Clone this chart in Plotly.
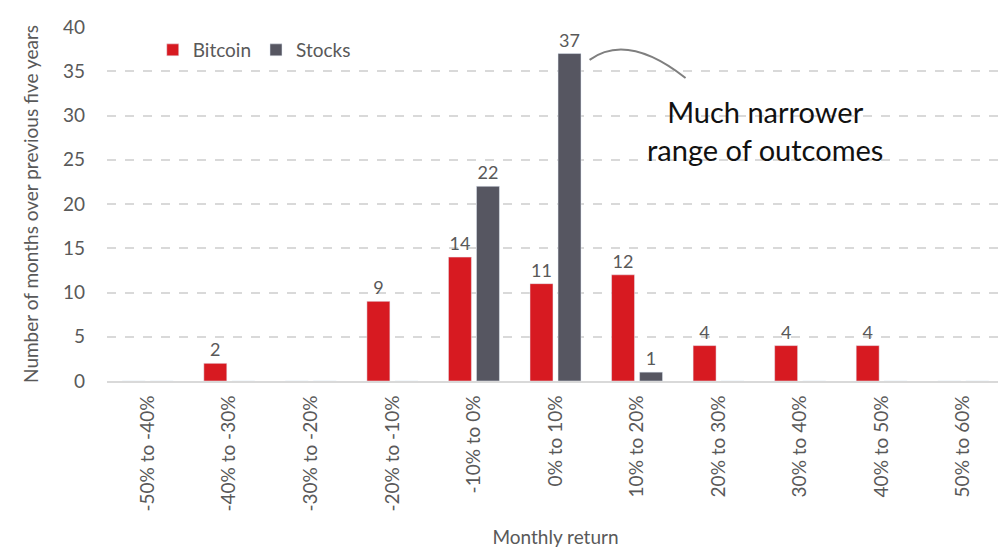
import plotly.graph_objects as go

categories = ["-50% to -40%", "-40% to -30%", "-30% to -20%", "-20% to -10%", "-10% to 0%",
              "0% to 10%", "10% to 20%", "20% to 30%", "30% to 40%", "40% to 50%", "50% to 60%"]
bitcoin = [0, 2, 0, 9, 14, 11, 12, 4, 4, 4, 0]
stocks = [0, 0, 0, 0, 22, 37, 1, 0, 0, 0, 0]

RED = "#d71a21"
GREY = "#565661"
TXT = "#595959"
FONT = "Lato"

def labels(vals):
    return [str(v) if v else "" for v in vals]

fig = go.Figure()
fig.add_trace(go.Bar(name="Bitcoin", x=categories, y=bitcoin, marker_color=RED,
                     text=labels(bitcoin), textposition="outside", cliponaxis=False,
                     textfont=dict(color=TXT, size=18, family=FONT)))
fig.add_trace(go.Bar(name="Stocks", x=categories, y=stocks, marker_color=GREY,
                     text=labels(stocks), textposition="outside", cliponaxis=False,
                     textfont=dict(color=TXT, size=18, family=FONT)))

# page has an 8px body margin, so figure is 998x548 with adjusted margins
fig.update_layout(
    width=998, height=548,
    margin=dict(l=99, r=2, t=19, b=175),
    plot_bgcolor="white", paper_bgcolor="white",
    font=dict(family=FONT, color=TXT, size=18),
    barmode="group", bargap=0.313, bargroupgap=0.18,
    legend=dict(orientation="h", x=0.051, y=0.935, xanchor="left", yanchor="middle",
                font=dict(size=19, color=TXT), bgcolor="rgba(0,0,0,0)",
                traceorder="normal"),
    showlegend=True,
)
fig.update_xaxes(showline=True, linecolor="#d9d9d9", linewidth=2, tickangle=-90,
                 ticks="", tickfont=dict(size=19, color=TXT), automargin=False,
                 ticklabelstandoff=5,
                 title=dict(text="Monthly return", font=dict(size=19, color=TXT), standoff=20))
fig.update_yaxes(range=[0, 40], dtick=5, showgrid=True, gridcolor="#d9d9d9", griddash="dash",
                 gridwidth=1.5, zeroline=False, ticks="", tickfont=dict(size=19, color=TXT),
                 ticklabelstandoff=21, automargin=False,
                 title=dict(text="Number of months over previous five years",
                            font=dict(size=19, color=TXT), standoff=19))

# annotation arc (decorative)
fig.add_shape(type="path", xref="paper", yref="paper",
              path="M 0.538 0.907 Q 0.58 0.985 0.645 0.856",
              line=dict(color="#7f7f7f", width=2))
fig.add_annotation(xref="paper", yref="paper", x=0.733, y=0.709, showarrow=False,
                   xanchor="center", yanchor="middle",
                   text="Much narrower<br>range of outcomes", align="center",
                   font=dict(family="Comic Sans MS, Lato", size=29, color="#111111"))

fig.write_html("out.html")
